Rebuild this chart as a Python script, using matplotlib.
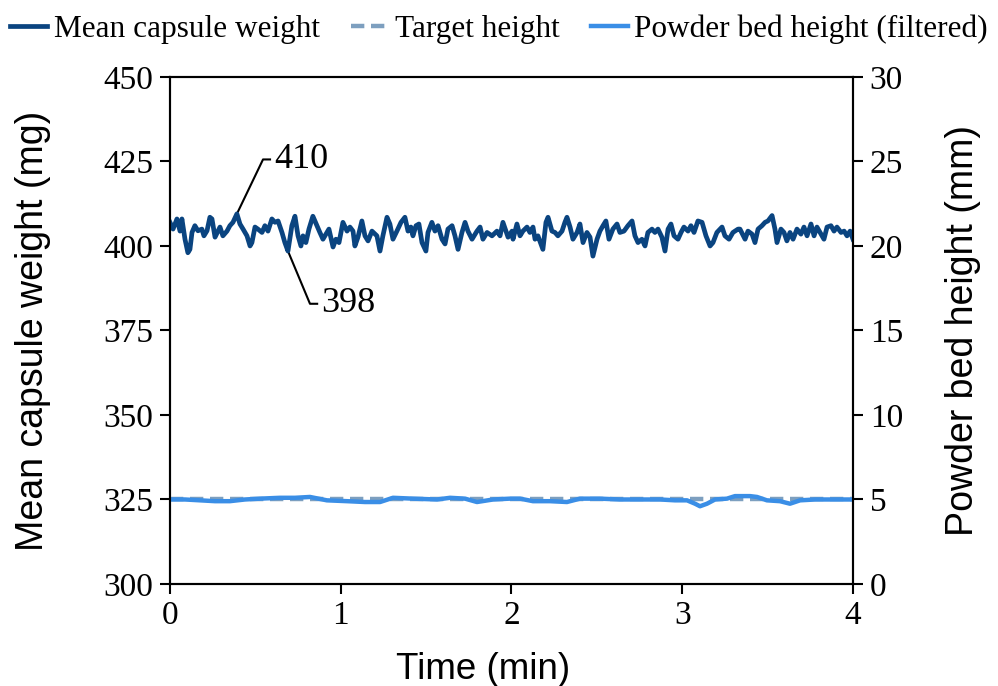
import matplotlib
matplotlib.use("Agg")
import matplotlib.pyplot as plt

# Mean capsule weight (mg) vs time (min)
weight_t = [
    0.000, 0.018, 0.041, 0.059, 0.070, 0.088, 0.105, 0.117, 0.129, 0.146,
    0.164, 0.187, 0.199, 0.217, 0.234, 0.246, 0.264, 0.281, 0.293, 0.310,
    0.334, 0.351, 0.369, 0.392, 0.410, 0.428, 0.451, 0.469, 0.480, 0.498,
    0.515, 0.539, 0.556, 0.574, 0.597, 0.615, 0.633, 0.656, 0.673, 0.691,
    0.714, 0.732, 0.750, 0.767, 0.779, 0.796, 0.814, 0.837, 0.861, 0.878,
    0.896, 0.919, 0.931, 0.955, 0.972, 0.990, 1.013, 1.037, 1.054, 1.072,
    1.083, 1.101, 1.124, 1.142, 1.160, 1.183, 1.212, 1.230, 1.247, 1.271,
    1.288, 1.306, 1.329, 1.353, 1.376, 1.394, 1.411, 1.423, 1.441, 1.458,
    1.476, 1.499, 1.511, 1.534, 1.552, 1.570, 1.593, 1.611, 1.628, 1.652,
    1.669, 1.687, 1.710, 1.728, 1.745, 1.769, 1.798, 1.816, 1.833, 1.857,
    1.886, 1.915, 1.933, 1.950, 1.980, 2.003, 2.009, 2.032, 2.050, 2.067,
    2.091, 2.108, 2.126, 2.138, 2.155, 2.184, 2.202, 2.214, 2.237, 2.255,
    2.272, 2.296, 2.313, 2.325, 2.343, 2.360, 2.384, 2.401, 2.419, 2.442,
    2.460, 2.477, 2.501, 2.518, 2.536, 2.553, 2.571, 2.594, 2.618, 2.635,
    2.659, 2.682, 2.706, 2.723, 2.741, 2.764, 2.782, 2.799, 2.823, 2.840,
    2.858, 2.881, 2.899, 2.917, 2.934, 2.952, 2.975, 2.993, 3.010, 3.034,
    3.051, 3.069, 3.092, 3.116, 3.139, 3.163, 3.180, 3.203, 3.233, 3.250,
    3.274, 3.297, 3.327, 3.338, 3.368, 3.385, 3.409, 3.426, 3.444, 3.467,
    3.485, 3.502, 3.526, 3.543, 3.555, 3.578, 3.596, 3.613, 3.631, 3.649,
    3.672, 3.695, 3.713, 3.731, 3.754, 3.772, 3.789, 3.807, 3.830, 3.848,
    3.871, 3.889, 3.906, 3.930, 3.948, 3.965, 3.983, 4.000,
]
weight_mg = [
    407.0, 405.0, 408.0, 404.4, 408.0, 402.0, 398.0, 399.0, 404.0, 406.0,
    404.5, 405.0, 403.0, 404.5, 408.5, 408.0, 402.6, 404.4, 405.6, 403.0,
    404.4, 406.0, 407.0, 409.5, 406.5, 405.0, 403.0, 400.0, 401.0, 405.6,
    405.0, 404.0, 406.0, 404.4, 408.0, 407.0, 407.4, 404.0, 401.0, 398.5,
    406.0, 408.8, 403.0, 400.0, 403.0, 401.0, 405.0, 408.8, 406.0, 404.0,
    402.0, 404.0, 405.0, 399.7, 402.0, 401.0, 407.0, 404.4, 405.6, 404.4,
    400.0, 402.6, 407.4, 403.0, 401.5, 404.4, 403.0, 398.5, 403.0, 408.5,
    406.5, 402.0, 404.4, 407.0, 408.5, 404.4, 405.6, 403.0, 406.0, 406.5,
    401.0, 398.5, 404.0, 407.0, 404.4, 406.0, 402.0, 400.6, 405.0, 406.0,
    403.0, 399.0, 404.0, 407.0, 404.4, 402.0, 404.4, 405.6, 402.0, 404.0,
    403.0, 404.4, 403.0, 407.0, 402.6, 404.4, 402.0, 406.5, 403.0, 404.4,
    405.6, 404.0, 405.6, 402.0, 403.0, 399.0, 407.0, 408.5, 404.4, 404.0,
    403.0, 404.4, 407.0, 408.5, 405.6, 402.0, 404.0, 406.5, 401.0, 404.0,
    402.6, 397.0, 402.0, 404.4, 406.0, 407.4, 402.0, 405.0, 406.5, 404.0,
    404.4, 406.0, 407.4, 403.0, 401.0, 402.0, 400.0, 404.0, 405.0, 404.0,
    405.0, 402.6, 398.5, 405.0, 406.5, 403.0, 402.0, 404.0, 405.6, 404.4,
    406.0, 404.0, 407.4, 407.0, 403.0, 400.0, 401.0, 404.0, 405.6, 403.0,
    402.0, 404.0, 405.0, 405.0, 402.0, 404.4, 403.5, 401.0, 405.0, 406.0,
    407.0, 407.4, 409.0, 405.0, 401.0, 405.0, 404.0, 401.5, 404.0, 402.0,
    405.0, 403.5, 405.6, 403.0, 406.5, 403.0, 405.6, 404.0, 402.0, 405.6,
    406.0, 404.4, 405.6, 404.0, 404.4, 403.0, 404.4, 402.0,
]

# Powder bed height (filtered), mm
height_t = [
    0.000, 0.088, 0.176, 0.264, 0.351, 0.439, 0.527, 0.644, 0.732, 0.820,
    0.919, 1.037, 1.142, 1.230, 1.306, 1.423, 1.564, 1.640, 1.728, 1.798,
    1.892, 1.991, 2.050, 2.126, 2.225, 2.325, 2.401, 2.518, 2.635, 2.753,
    2.870, 2.958, 3.028, 3.075, 3.104, 3.145, 3.192, 3.262, 3.309, 3.397,
    3.438, 3.496, 3.572, 3.631, 3.690, 3.778, 3.865, 4.000,
]
height_mm = [
    5.00, 5.00, 4.95, 4.90, 4.90, 5.00, 5.05, 5.10, 5.10, 5.15,
    4.95, 4.90, 4.85, 4.85, 5.10, 5.05, 5.00, 5.10, 5.05, 4.85,
    5.00, 5.05, 5.05, 4.90, 4.90, 4.85, 5.05, 5.05, 5.00, 5.00,
    5.00, 4.95, 4.95, 4.75, 4.60, 4.75, 5.00, 5.05, 5.20, 5.20,
    5.15, 4.95, 4.90, 4.75, 4.95, 5.00, 5.00, 5.00,
]

target_t = [0, 4]
target_mm = [5, 5]

SERIF = "Liberation Serif"
SANS = "Liberation Sans"
DARK = "#0a4480"
LIGHT = "#3a8ee6"
TARGET = "#7d9fbf"

fig = plt.figure(figsize=(9.98, 6.86), dpi=100)
ax = fig.add_axes([0.1703, 0.1487, 0.6844, 0.7391])
ax2 = ax.twinx()

l1, = ax.plot(weight_t, weight_mg, color=DARK, lw=3.4, label="Mean capsule weight",
              solid_joinstyle="round", zorder=3)
l2, = ax2.plot(target_t, target_mm, color=TARGET, lw=3.2, ls=(0, (3, 1.5)),
               label="Target height")
l3, = ax2.plot(height_t, height_mm, color=LIGHT, lw=3.2,
               label="Powder bed height (filtered)", solid_joinstyle="round")

ax.set_xlim(0, 4)
ax.set_ylim(300, 450)
ax2.set_ylim(0, 30)
ax.set_xticks([0, 1, 2, 3, 4])
ax.set_yticks(range(300, 451, 25))
ax2.set_yticks(range(0, 31, 5))

for a in (ax, ax2):
    for s in a.spines.values():
        s.set_linewidth(1.5)
    a.tick_params(direction="out", length=7, width=1.5, labelsize=24, pad=5)
    for lab in a.get_xticklabels() + a.get_yticklabels():
        lab.set_fontfamily(SERIF)

ax.set_xlabel("Time (min)", fontfamily=SANS, fontsize=26.5)
ax.xaxis.set_label_coords(0.458, -0.135)
ax.set_ylabel("Mean capsule weight (mg)", fontfamily=SANS, fontsize=27, labelpad=38)
ax2.set_ylabel("Powder bed height (mm)", fontfamily=SANS, fontsize=27, labelpad=30)

# annotations for max / min
ax.plot([0.392, 0.545, 0.586], [409.5, 425.6, 425.6], color="black", lw=1.5)
ax.text(0.61, 425.6, "410", fontfamily=SERIF, fontsize=26, va="center", ha="left")
ax.plot([0.691, 0.82, 0.862], [398.5, 382.9, 382.9], color="black", lw=1.5)
ax.text(0.885, 382.9, "398", fontfamily=SERIF, fontsize=26, va="center", ha="left")

fig.legend(handles=[l1, l2, l3], loc="upper center", bbox_to_anchor=(0.5, 1.02),
           ncol=3, frameon=False, prop={"family": SERIF, "size": 22.5},
           handlelength=1.2, handletextpad=0.2, columnspacing=1.0)

fig.savefig("out.png", dpi=100)
